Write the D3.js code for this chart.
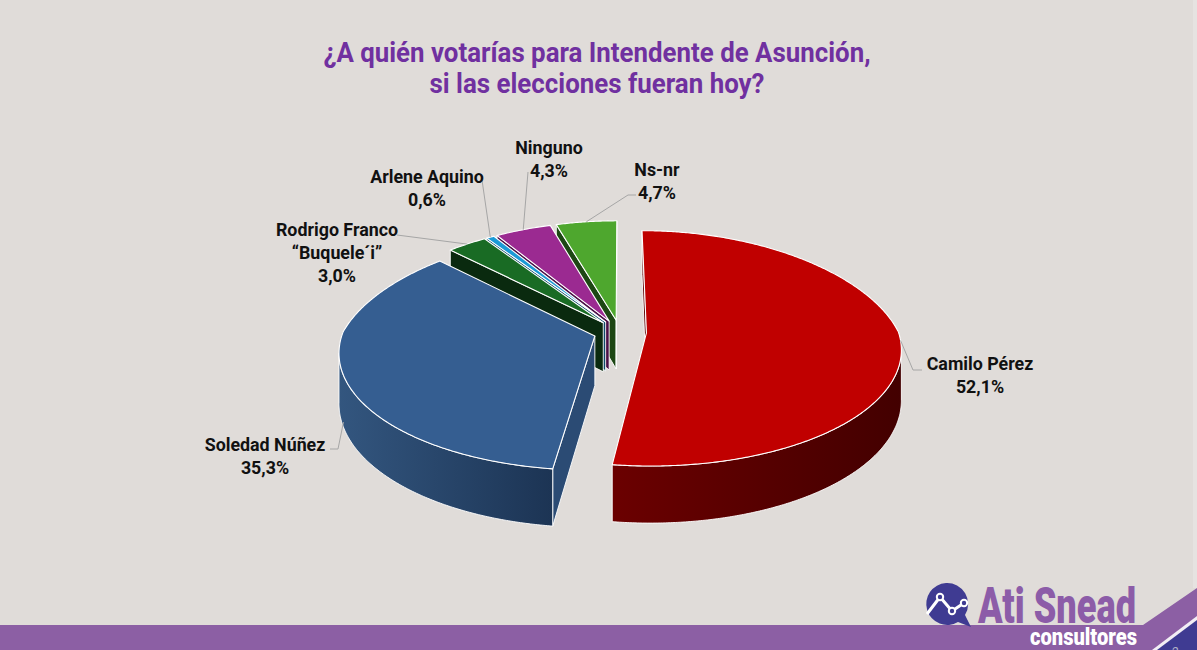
<!DOCTYPE html>
<html><head><meta charset="utf-8">
<script src="https://cdn.jsdelivr.net/npm/d3@7"></script>
<style>
html,body{margin:0;padding:0;background:#e0dcd9;}
svg{display:block;}
text{font-family:Roboto,"Liberation Sans",sans-serif;}
</style></head><body>
<svg id="chart" width="1197" height="650"></svg>
<script>
// ---------- data ----------
const categories = ["Camilo Pérez","Soledad Núñez","Rodrigo Franco\n“Buquele´i”","Arlene Aquino","Ninguno","Ns-nr"];
const values = [52.1, 35.3, 3.0, 0.6, 4.3, 4.7];
const titleLines = ["¿A quién votarías para Intendente de Asunción,","si las elecciones fueran hoy?"];

// ---------- styles ----------
const topColors  = ["#c00000","#355e91","#196b24","#1b9ad6","#9b2a91","#4ea72e"];
const faceColors = ["#5a0000","#2b4b74","#0a2a0f","#0c4a6a","#4a0f46","#1d4714"];
const sideLeft   = ["#6b0000","#33567f","#0d3212","#0e5577","#561152","#22501a"];
const sideRight  = ["#430000","#1c3454","#08220c","#0a3d57","#3e0c3a","#173d11"];
// label layout (centre x, first baseline) and leader shapes
const labelPos = [[980,370],[265,451],[337,236],[427,183],[549,154],[657,176]];
const leaderPts = [[[913,370],[922,370]],[[338,449],[330,449]],[[397,235]],[[482,180]],[[528,172]],[[628,195],[636,195]]];
const leaderDepth = [0,0.9,0,0,0,0];

const svg = d3.select("#chart");
const W = 1197, H = 650;
svg.append("rect").attr("width",W).attr("height",H).attr("fill","#e0dcd9");

// ---------- projection ----------
const S=252, Ky=115.4, T=49.5, aY=0.132, aXf=0.132, aXb=0.2, explode=0.105;
const cx=620, cy=332;
const xs = d3.scaleLinear().domain([-1,1]).range([cx-S,cx+S]);
const ys = d3.scaleLinear().domain([-1,1]).range([cy+Ky,cy-Ky]);
function proj(X,Z,depth){ const p=1+aY*Z; const px=1+(Z<0?aXf:aXb)*Z; return [xs(X/px), ys(Z/p)+depth*T/p]; }
function area(pts){ let s=0; for(let i=0;i<pts.length;i++){const a=pts[i],b=pts[(i+1)%pts.length]; s+=a[0]*b[1]-b[0]*a[1];} return s/2; }

const arcs = d3.pie().sort(null).value(d=>d)(values);
const line = d3.line().curve(d3.curveLinearClosed);
const defs = svg.append("defs");
const gPie = svg.append("g");

const slices = arcs.map((a,i)=>{
  const m=(a.startAngle+a.endAngle)/2;
  return {a,i,m,ox:explode*Math.sin(m),oz:explode*Math.cos(m)};
});
function pt(s,th,r,depth){ return proj(s.ox+r*Math.sin(th), s.oz+r*Math.cos(th), depth); }

slices.slice().sort((p,q)=>q.oz-p.oz).forEach(s=>{
  const i=s.i, a0=s.a.startAngle, a1=s.a.endAngle;
  const g=gPie.append("g");
  const n=Math.max(2,Math.ceil((a1-a0)/(Math.PI/360)));
  const angs=d3.range(n+1).map(k=>a0+(a1-a0)*k/n);
  const vT=pt(s,0,0,0), vB=pt(s,0,0,1);
  // cut faces
  const sf=[vT,pt(s,a0,1,0),pt(s,a0,1,1),vB];
  const ef=[vT,vB,pt(s,a1,1,1),pt(s,a1,1,0)];
  [sf,ef].forEach(f=>{ if(area(f)<0) g.append("path").attr("d",line(f)).attr("fill",faceColors[i]).attr("stroke","#fff").attr("stroke-width",0.9).attr("stroke-linejoin","round"); });
  // outer side
  const runs=[]; let cur=null;
  for(let k=0;k<n;k++){
    const t1=angs[k],t2=angs[k+1];
    const q=[pt(s,t1,1,0),pt(s,t2,1,0),pt(s,t2,1,1),pt(s,t1,1,1)];
    if(area(q)<0){ if(!cur){cur=[t1];runs.push(cur);} cur.push(t2);} else cur=null;
  }
  runs.forEach((r,ri)=>{
    const top=r.map(t=>pt(s,t,1,0)), bot=r.map(t=>pt(s,t,1,1)).reverse();
    const poly=top.concat(bot);
    const xe=d3.extent(poly,d=>d[0]);
    const id="gr"+i+"_"+ri;
    const gr=defs.append("linearGradient").attr("id",id).attr("gradientUnits","userSpaceOnUse")
      .attr("x1",xe[0]).attr("x2",xe[1]).attr("y1",0).attr("y2",0);
    gr.append("stop").attr("offset",0).attr("stop-color",sideLeft[i]);
    gr.append("stop").attr("offset",1).attr("stop-color",sideRight[i]);
    g.append("path").attr("d",line(poly)).attr("fill",`url(#${id})`).attr("stroke","#fff").attr("stroke-width",0.9).attr("stroke-linejoin","round");
  });
  // top face
  const topPoly=[vT].concat(angs.map(t=>pt(s,t,1,0)));
  g.append("path").attr("d",line(topPoly)).attr("fill",topColors[i]).attr("stroke","#fff").attr("stroke-width",1.1).attr("stroke-linejoin","round");
});

// ---------- leaders & labels ----------
const fmt = d3.formatLocale({decimal:",",thousands:".",grouping:[3],currency:["",""]}).format(".1f");
const gLab = svg.append("g");
function condense(sel,f){ sel.each(function(){ const w=this.getComputedTextLength(); this.setAttribute("textLength",w*f); this.setAttribute("lengthAdjust","spacingAndGlyphs"); }); }
slices.forEach(s=>{
  const i=s.i;
  const start=pt(s,s.m,1,leaderDepth[i]);
  gLab.append("path").attr("d",d3.line()([start].concat(leaderPts[i])))
    .attr("fill","none").attr("stroke","#a6a6a6").attr("stroke-width",1);
  const lines=categories[i].split("\n").concat([fmt(values[i])+"%"]);
  const t=gLab.selectAll(null).data(lines).enter().append("text")
    .attr("x",labelPos[i][0]).attr("y",(d,k)=>labelPos[i][1]+k*23)
    .attr("text-anchor","middle").attr("font-size",18).attr("font-weight",700)
    .attr("fill","#111").text(d=>d);
  condense(t,0.99);
});

// ---------- title ----------
const tt=svg.append("g").selectAll("text").data(titleLines).enter().append("text")
  .attr("x",597).attr("y",(d,k)=>62+k*31).attr("text-anchor","middle")
  .attr("font-size",27).attr("font-weight",700).attr("fill","#7030a0").text(d=>d);
tt.attr("textLength",(d,k)=>k===0?547:335).attr("lengthAdjust","spacingAndGlyphs");

// ---------- footer band & logo ----------
const foot=svg.append("g");
foot.append("path").attr("d","M0,625L1143,625L1197,588L1197,650L0,650Z").attr("fill","#8c5fa4");
foot.append("path").attr("d","M1152,650L1197,616L1197,650Z").attr("fill","#f2eef5");
foot.append("path").attr("d","M1157,650L1197,620L1197,650Z").attr("fill","#3f3b92");
foot.append("rect").attr("x",1193).attr("y",0).attr("width",4).attr("height",588).attr("fill","#e6e3e1");
foot.append("text").attr("x",1172).attr("y",656).attr("font-size",12).attr("fill","#b3b3c8").text("2");
// bubble icon
foot.append("path").attr("d","M946,583A21,21 0 1 0 958,622L971,627L965,615A21,21 0 0 0 946,583Z").attr("fill","#3f3b92");
foot.append("path").attr("d",d3.line()([[927,614],[940,597],[952,611],[964,603]])).attr("fill","none").attr("stroke","#fff").attr("stroke-width",3).attr("stroke-linejoin","round");
[[940,597],[952,611],[964,603]].forEach(p=>foot.append("circle").attr("cx",p[0]).attr("cy",p[1]).attr("r",3.2).attr("fill","#3f3b92").attr("stroke","#fff").attr("stroke-width",2));
foot.append("text").attr("x",978).attr("y",623).attr("font-size",50).attr("font-weight",900).attr("fill","#8c5ca8")
  .attr("textLength",158).attr("lengthAdjust","spacingAndGlyphs").text("Ati Snead");
foot.append("text").attr("x",1030).attr("y",645).attr("font-size",23).attr("font-weight",900).attr("fill","#fff")
  .attr("textLength",107).attr("lengthAdjust","spacingAndGlyphs").text("consultores");
</script>
</body></html>
